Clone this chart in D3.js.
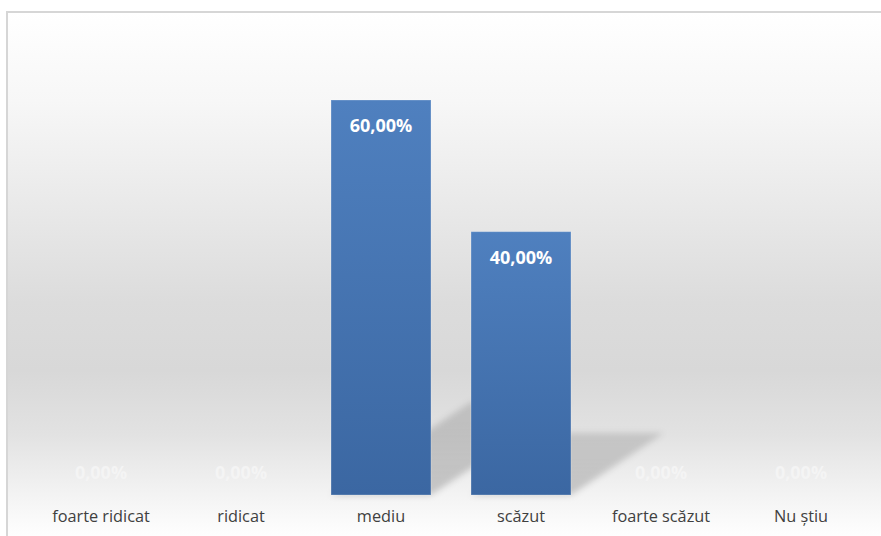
<!DOCTYPE html>
<html>
<head>
<meta charset="utf-8">
<script src="https://cdn.jsdelivr.net/npm/d3@7"></script>
<style>
  html, body { margin: 0; padding: 0; background: #ffffff; }
  svg { display: block; }
</style>
</head>
<body>
<svg id="chart" width="881" height="536"></svg>
<script>
// Response categories and the share of answers for each one
const categories = ["foarte ridicat", "ridicat", "mediu", "scăzut", "foarte scăzut", "Nu știu"];
const shares = [0, 0, 60, 40, 0, 0];
const valueLabels = ["0,00%", "0,00%", "60,00%", "40,00%", "0,00%", "0,00%"];

const W = 881, H = 536;
const svg = d3.select("#chart");
const defs = svg.append("defs");

// Chart-area background: white at the top, soft grey band, white again at the bottom
const bg = defs.append("linearGradient")
  .attr("id", "bgGrad")
  .attr("gradientUnits", "userSpaceOnUse")
  .attr("x1", 0).attr("y1", 11).attr("x2", 0).attr("y2", 540);
[[0, "#ffffff"], [0.17, "#f7f7f7"], [0.37, "#e9e9e9"], [0.55, "#dcdcdc"], [0.68, "#d8d8d8"],
 [0.80, "#e2e2e2"], [0.90, "#f1f1f1"], [0.97, "#fbfbfb"], [1, "#ffffff"]]
  .forEach(([o, c]) => bg.append("stop").attr("offset", o).attr("stop-color", c));

// Bar fill: lighter blue at the top, deeper blue at the base
const barGrad = defs.append("linearGradient")
  .attr("id", "barGrad").attr("x1", 0).attr("y1", 0).attr("x2", 0).attr("y2", 1);
barGrad.append("stop").attr("offset", 0).attr("stop-color", "#4f80bf");
barGrad.append("stop").attr("offset", 1).attr("stop-color", "#3b67a2");

// Perspective shadow: fades out towards its far edge
const shGrad = defs.append("linearGradient")
  .attr("id", "shGrad").attr("x1", 0).attr("y1", 1).attr("x2", 0).attr("y2", 0);
shGrad.append("stop").attr("offset", 0).attr("stop-color", "#000").attr("stop-opacity", 0.19);
shGrad.append("stop").attr("offset", 1).attr("stop-color", "#000").attr("stop-opacity", 0.13);

const blur = defs.append("filter").attr("id", "shBlur")
  .attr("x", "-30%").attr("y", "-30%").attr("width", "160%").attr("height", "160%");
blur.append("feGaussianBlur").attr("stdDeviation", 3);

// Background panel with its light border on the top and left
svg.append("rect")
  .attr("x", 7).attr("y", 12).attr("width", W).attr("height", H)
  .attr("fill", "url(#bgGrad)")
  .attr("stroke", "#d6d6d6").attr("stroke-width", 2);

// Scales
const x = d3.scaleBand()
  .domain(categories)
  .range([31, 871])
  .paddingInner(0.286)
  .paddingOuter(0.143);

const y = d3.scaleLinear()
  .domain([0, 60])
  .range([495, 100]);

const data = categories.map((c, i) => ({ cat: c, v: shares[i], label: valueLabels[i] }));

// Shadows cast up and to the right of each bar
const shadowRatio = 0.235, skew = 1.5;
svg.append("g").attr("filter", "url(#shBlur)")
  .selectAll("path")
  .data(data.filter(d => d.v > 0))
  .join("path")
  .attr("d", d => {
    const x0 = x(d.cat), x1 = x0 + x.bandwidth();
    const base = y(0);
    const h = (y(0) - y(d.v)) * shadowRatio;
    const dx = h * skew;
    return `M${x0},${base}L${x1},${base}L${x1 + dx},${base - h}L${x0 + dx},${base - h}Z`;
  })
  .attr("fill", "url(#shGrad)");

// Bars
svg.append("g")
  .selectAll("rect")
  .data(data.filter(d => d.v > 0))
  .join("rect")
  .attr("x", d => x(d.cat))
  .attr("y", d => y(d.v))
  .attr("width", x.bandwidth())
  .attr("height", d => y(0) - y(d.v))
  .attr("fill", "url(#barGrad)")
  .attr("stroke", "rgba(255,255,255,0.25)")
  .attr("stroke-width", 1);

// Value labels inside the bar tops (above the baseline for empty bars)
svg.append("g")
  .selectAll("text")
  .data(data)
  .join("text")
  .attr("x", d => x(d.cat) + x.bandwidth() / 2)
  .attr("y", d => d.v > 0 ? y(d.v) + 32 : y(0) - 16)
  .attr("text-anchor", "middle")
  .attr("font-family", "'Open Sans', sans-serif")
  .attr("font-weight", "bold")
  .attr("font-size", 18)
  .attr("fill", d => d.v > 0 ? "#ffffff" : "#f4f4f4")
  .text(d => d.label);

// Category axis labels
const xAxis = d3.axisBottom(x).tickSize(0).tickPadding(0);
const ax = svg.append("g").attr("transform", `translate(0,${y(0)})`).call(xAxis);
ax.select(".domain").remove();
ax.selectAll("text")
  .attr("y", 27)
  .attr("dy", 0)
  .attr("font-family", "'Open Sans', sans-serif")
  .attr("font-size", 16.3)
  .attr("fill", "#404040");
</script>
</body>
</html>
